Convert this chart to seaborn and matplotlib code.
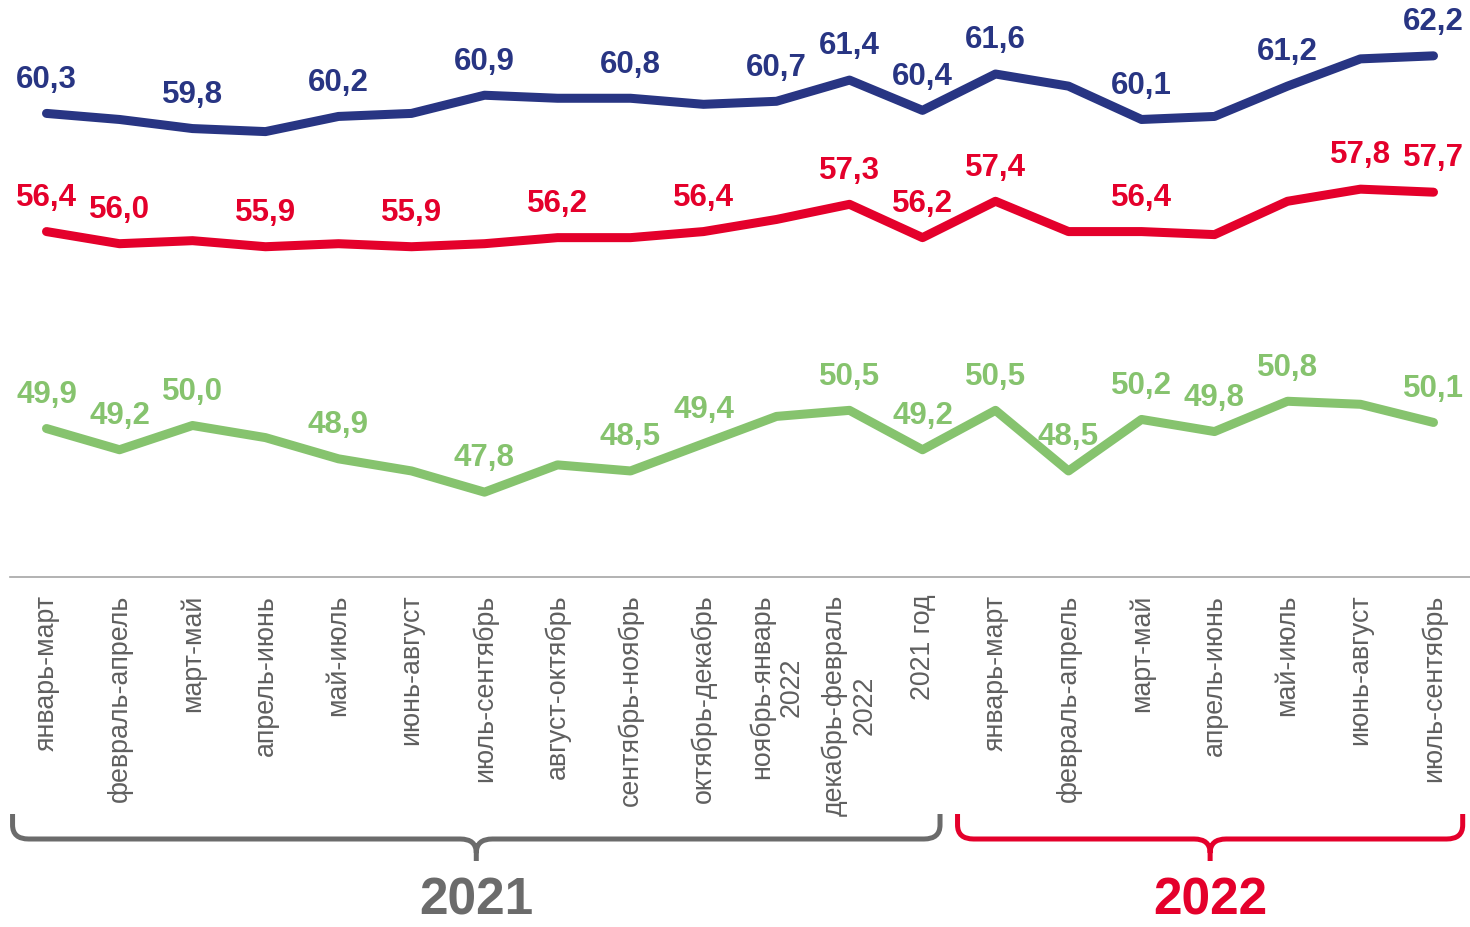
import pandas as pd
import seaborn as sns
import matplotlib.pyplot as plt
import matplotlib.transforms as mtransforms
from matplotlib.path import Path
from matplotlib.patches import PathPatch

# Data
periods = [
    'январь-март', 'февраль-апрель', 'март-май', 'апрель-июнь', 'май-июль',
    'июнь-август', 'июль-сентябрь', 'август-октябрь', 'сентябрь-ноябрь',
    'октябрь-декабрь', 'ноябрь-январь\n2022', 'декабрь-февраль\n2022', '2021 год',
    'январь-март', 'февраль-апрель', 'март-май', 'апрель-июнь', 'май-июль',
    'июнь-август', 'июль-сентябрь',
]
blue_vals = [60.3, 60.1, 59.8, 59.7, 60.2, 60.3, 60.9, 60.8, 60.8, 60.6,
             60.7, 61.4, 60.4, 61.6, 61.2, 60.1, 60.2, 61.2, 62.1, 62.2]
red_vals = [56.4, 56.0, 56.1, 55.9, 56.0, 55.9, 56.0, 56.2, 56.2, 56.4,
            56.8, 57.3, 56.2, 57.4, 56.4, 56.4, 56.3, 57.4, 57.8, 57.7]
green_vals = [49.9, 49.2, 50.0, 49.6, 48.9, 48.5, 47.8, 48.7, 48.5, 49.4,
              50.3, 50.5, 49.2, 50.5, 48.5, 50.2, 49.8, 50.8, 50.7, 50.1]

# which points carry a value label
blue_labeled = [0, 2, 4, 6, 8, 10, 11, 12, 13, 15, 17, 19]
red_labeled = [0, 1, 3, 5, 7, 9, 11, 12, 13, 15, 18, 19]
green_labeled = [0, 1, 2, 4, 6, 8, 9, 11, 12, 13, 14, 15, 16, 17, 19]

year_groups = ['2021', '2022']

palette = {'blue': '#283583', 'red': '#E4002B', 'green': '#86C36E'}
year_colors = ['#6B6B6B', '#E4002B']

series = {'blue': blue_vals, 'red': red_vals, 'green': green_vals}
labeled = {'blue': blue_labeled, 'red': red_labeled, 'green': green_labeled}

rows = []
for name, vals in series.items():
    for i, v in enumerate(vals):
        rows.append({'x': i, 'value': v, 'series': name})
df = pd.DataFrame(rows)

sns.set_theme(style='white')
plt.rcParams['font.family'] = ['Liberation Sans', 'DejaVu Sans']

fig = plt.figure(figsize=(14.7, 9.28), dpi=100)
ax = fig.add_axes([10 / 1470, 1 - 578 / 928, 1460 / 1470, 578 / 928])

sns.lineplot(data=df, x='x', y='value', hue='series', palette=palette,
             linewidth=6.5, sort=False, legend=False, ax=ax,
             solid_capstyle='round')

for name, vals in series.items():
    for i in labeled[name]:
        ax.annotate(f"{vals[i]:.1f}".replace('.', ','), (i, vals[i]),
                    xytext=(0, 25), textcoords='offset points',
                    ha='center', va='center', fontsize=22.5, fontweight='bold',
                    color=palette[name])

ax.set_xlim(-0.5, len(periods) - 0.5)
ax.set_ylim(45, 45 + 578 / 30.3)
ax.set_xticks(range(len(periods)))
ax.set_xticklabels(periods, rotation=90, fontsize=19.3, color='#5F5F5F',
                   va='top', ha='center', multialignment='center',
                   linespacing=1.15)
ax.tick_params(axis='x', length=0, pad=12)
ax.set_yticks([])
ax.set_xlabel('')
ax.set_ylabel('')
for side in ['top', 'left', 'right']:
    ax.spines[side].set_visible(False)
ax.spines['bottom'].set_color('#A6A6A6')
ax.spines['bottom'].set_linewidth(1.2)


def draw_brace(x0, x1, color):
    trans = mtransforms.blended_transform_factory(ax.transData, fig.transFigure)
    xc = (x0 + x1) / 2
    top, line, tip = 1 - 815 / 928, 1 - 840 / 928, 1 - 862 / 928
    rx, ry = 0.22, 14 / 928
    verts = [
        (x0, top), (x0, line + ry),
        (x0, line), (x0 + rx, line),
        (xc - rx, line),
        (xc, line), (xc, line - ry),
        (xc, tip),
        (xc, line - ry),
        (xc, line), (xc + rx, line),
        (x1 - rx, line),
        (x1, line), (x1, line + ry),
        (x1, top),
    ]
    codes = [Path.MOVETO, Path.LINETO,
             Path.CURVE3, Path.CURVE3,
             Path.LINETO,
             Path.CURVE3, Path.CURVE3,
             Path.LINETO,
             Path.MOVETO,
             Path.CURVE3, Path.CURVE3,
             Path.LINETO,
             Path.CURVE3, Path.CURVE3,
             Path.LINETO]
    patch = PathPatch(Path(verts, codes), facecolor='none', edgecolor=color,
                      linewidth=3.6, transform=trans, clip_on=False,
                      capstyle='butt')
    fig.add_artist(patch)
    return xc


brace_spans = [(-0.465, 12.24), (12.48, 19.4)]
for (x0, x1), year, color in zip(brace_spans, year_groups, year_colors):
    xc = draw_brace(x0, x1, color)
    trans = mtransforms.blended_transform_factory(ax.transData, fig.transFigure)
    fig.text(xc, 1 - 915 / 928, year, transform=trans, ha='center',
             va='baseline', fontsize=37, fontweight='bold', color=color)

fig.savefig('out.png', dpi=100)
